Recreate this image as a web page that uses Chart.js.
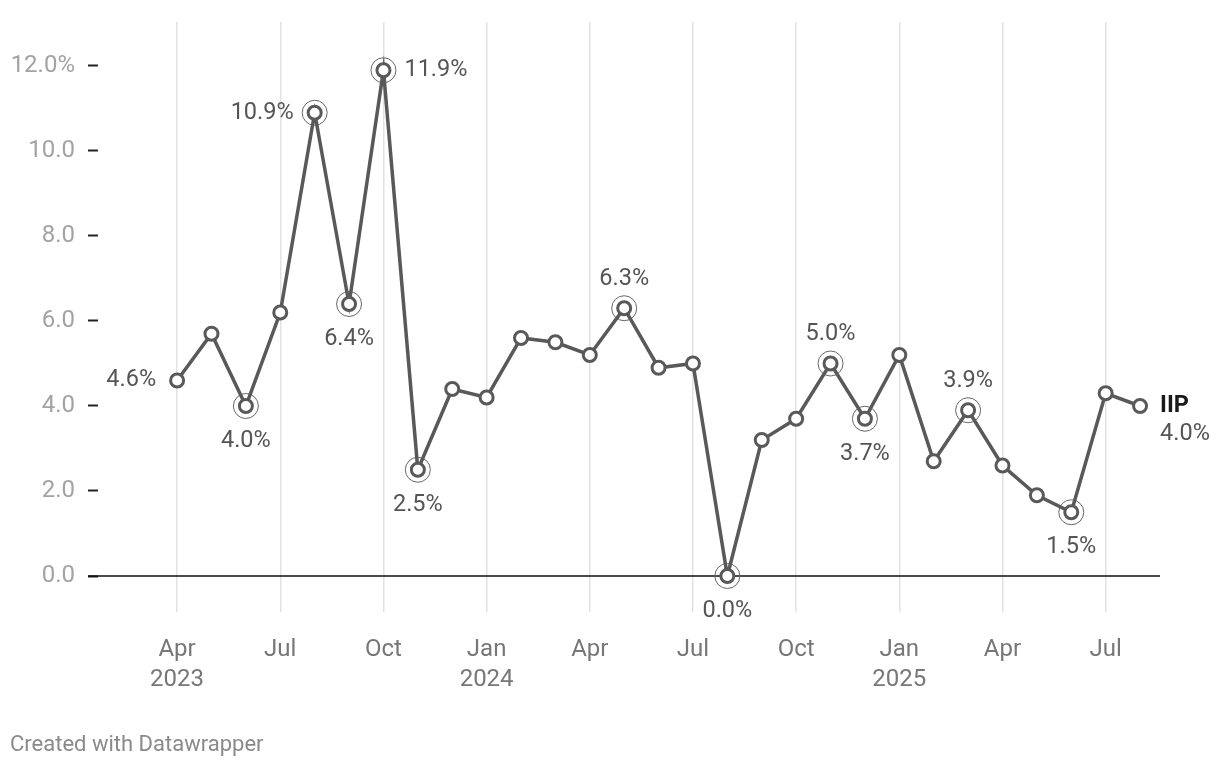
<!DOCTYPE html>
<html>
<head>
<meta charset="utf-8">
<script src="https://cdn.jsdelivr.net/npm/chart.js@4.4.1/dist/chart.umd.min.js"></script>
<style>
  body { margin: 0; background: #fff; font-family: Roboto, sans-serif; }
  #wrap { position: relative; width: 1220px; height: 768px; }
  #credit { position: absolute; left: 10px; top: 731px; font-size: 22px; color: #8a8a8a; }
</style>
</head>
<body>
<div id="wrap">
  <canvas id="iipChart" width="1220" height="768"></canvas>
  <div id="credit">Created with Datawrapper</div>
</div>
<script>
// monthly IIP growth, Apr 2023 .. Aug 2025
const monthNames = ["Jan","Feb","Mar","Apr","May","Jun","Jul","Aug","Sep","Oct","Nov","Dec"];
const startMonth = 3;   // April
const startYear = 2023;
const iipValues = [4.6, 5.7, 4.0, 6.2, 10.9, 6.4, 11.9, 2.5, 4.4,
                   4.2, 5.6, 5.5, 5.2, 6.3, 4.9, 5.0, 0.0, 3.2, 3.7, 5.0, 3.7,
                   5.2, 2.7, 3.9, 2.6, 1.9, 1.5, 4.3, 4.0];
const yTicks = [0, 2, 4, 6, 8, 10, 12];
const xTicks = [0, 3, 6, 9, 12, 15, 18, 21, 24, 27];
const ringIdx = [2, 4, 5, 6, 7, 13, 16, 19, 20, 23, 26];
const labelIdx = [0, 2, 4, 5, 6, 7, 13, 16, 19, 20, 23, 26];
const labelSide = ["left","below","left","below","right","below","above","below","above","below","above","below"];
const seriesName = "IIP";

const LINE = "#595959";
const FONT = "Roboto, sans-serif";

const pts = iipValues.map((v, i) => ({ x: i, y: v }));
const ringPts = ringIdx.map(i => ({ x: i, y: iipValues[i] }));

function monthLabel(i) {
    const m = (startMonth + i) % 12;
    const y = startYear + Math.floor((startMonth + i) / 12);
    if (i === 0 || m === 0) return [monthNames[m], String(y)];
    return monthNames[m];
}

const zeroLine = {
    id: "zeroLine",
    beforeDatasetsDraw(chart) {
        const { ctx, chartArea, scales } = chart;
        const y = scales.y.getPixelForValue(0);
        ctx.save();
        ctx.strokeStyle = "#111";
        ctx.lineWidth = 1.5;
        ctx.beginPath();
        ctx.moveTo(chartArea.left - 10, y);
        ctx.lineTo(chartArea.right, y);
        ctx.stroke();
        ctx.restore();
    }
};

const pointLabels = {
    id: "pointLabels",
    afterDatasetsDraw(chart) {
        const { ctx } = chart;
        const meta = chart.getDatasetMeta(1);
        ctx.save();
        ctx.font = "23.5px " + FONT;
        ctx.fillStyle = "#555";
        labelIdx.forEach((idx, k) => {
            const p = meta.data[idx];
            const txt = iipValues[idx].toFixed(1) + "%";
            const side = labelSide[k];
            let x = p.x, y = p.y;
            ctx.textBaseline = "middle";
            if (side === "left") { ctx.textAlign = "right"; x -= 21; }
            else if (side === "right") { ctx.textAlign = "left"; x += 21; }
            else if (side === "above") { ctx.textAlign = "center"; y -= 29; }
            else { ctx.textAlign = "center"; y += 35; }
            ctx.fillText(txt, x, y);
        });
        // series label at the end of the line
        const last = meta.data[iipValues.length - 1];
        ctx.textAlign = "left";
        ctx.textBaseline = "middle";
        ctx.font = "bold 23.5px " + FONT;
        ctx.fillStyle = "#1a1a1a";
        ctx.fillText(seriesName, last.x + 20, last.y);
        ctx.font = "23.5px " + FONT;
        ctx.fillStyle = "#555";
        ctx.fillText(iipValues[iipValues.length - 1].toFixed(1) + "%", last.x + 20, last.y + 28);
        ctx.restore();
    }
};

const ctx = document.getElementById("iipChart").getContext("2d");

new Chart(ctx, {
    type: "line",
    data: {
        datasets: [
            {
                data: ringPts,
                showLine: false,
                pointRadius: 12.5,
                pointBorderWidth: 1,
                pointBorderColor: "#666",
                pointBackgroundColor: "rgba(255,255,255,0)",
                order: 2
            },
            {
                data: pts,
                borderColor: LINE,
                borderWidth: 3.5,
                pointRadius: 6.5,
                pointBorderWidth: 3,
                pointBorderColor: LINE,
                pointBackgroundColor: "#fff",
                tension: 0,
                order: 1
            }
        ]
    },
    options: {
        responsive: false,
        animation: false,
        layout: { padding: { top: 22, right: 60, left: 0, bottom: 0 } },
        plugins: {
            legend: { display: false },
            tooltip: { enabled: false }
        },
        scales: {
            x: {
                type: "linear",
                min: -2.3,
                max: 28.58,
                afterBuildTicks: s => { s.ticks = xTicks.map(v => ({ value: v })); },
                afterFit: s => { s.height = 156; s.paddingLeft = 0; s.paddingRight = 0; },
                grid: { color: "#e2e2e2", lineWidth: 1.5, drawTicks: false },
                border: { display: false },
                ticks: {
                    autoSkip: false,
                    maxRotation: 0,
                    padding: 23,
                    color: "#777",
                    font: { family: FONT, size: 24, lineHeight: 1.25 },
                    callback: v => monthLabel(v)
                }
            },
            y: {
                min: -0.847,
                max: 13.035,
                afterBuildTicks: s => { s.ticks = yTicks.map(v => ({ value: v })); },
                afterFit: s => { s.width = 98; s.paddingTop = 0; s.paddingBottom = 0; },
                grid: {
                    drawOnChartArea: false,
                    drawTicks: true,
                    tickLength: 10,
                    tickColor: "#222",
                    tickWidth: 2
                },
                border: { display: false },
                ticks: {
                    padding: 13,
                    color: "#a3a3a3",
                    font: { family: FONT, size: 24 },
                    callback: v => v === 12 ? v.toFixed(1) + "%" : v.toFixed(1)
                }
            }
        }
    },
    plugins: [zeroLine, pointLabels]
});
</script>
</body>
</html>
